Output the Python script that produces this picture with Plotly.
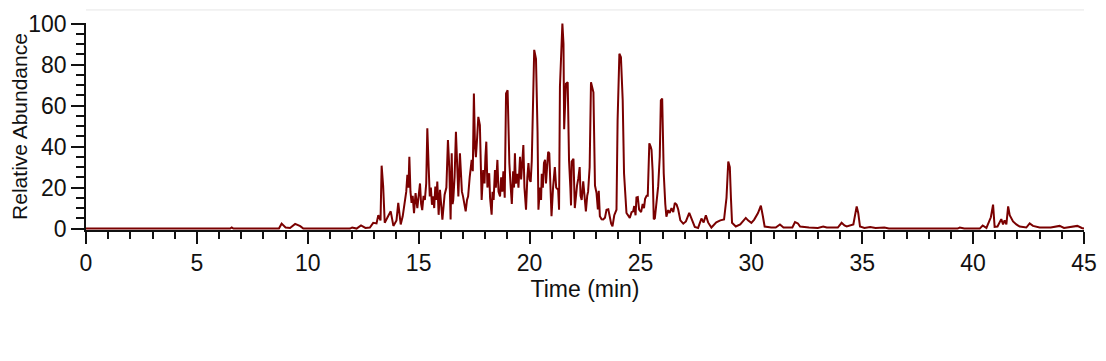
import plotly.graph_objects as go

# Retention time (min) and relative abundance (%)
time_min = [
    0, 6.5, 6.57, 6.65, 8.7, 8.82, 9.0, 9.2, 9.43, 9.66,
    9.8, 11.9, 12.0, 12.2, 12.4, 12.6, 12.8, 12.95, 13.1, 13.18,
    13.28, 13.33, 13.4, 13.47, 13.62, 13.74, 13.86, 14.0, 14.08, 14.19,
    14.28, 14.37, 14.44, 14.49, 14.54, 14.58, 14.63, 14.68, 14.73, 14.79,
    14.86, 14.94, 15.0, 15.06, 15.11, 15.16, 15.22, 15.28, 15.34, 15.39,
    15.45, 15.5, 15.55, 15.6, 15.66, 15.7, 15.75, 15.8, 15.84, 15.9,
    15.96, 16.07, 16.17, 16.25, 16.32, 16.38, 16.44, 16.49, 16.53, 16.56,
    16.62, 16.68, 16.74, 16.79, 16.86, 16.9, 16.95, 17.0, 17.06, 17.12,
    17.18, 17.23, 17.3, 17.39, 17.44, 17.49, 17.54, 17.58, 17.64, 17.69,
    17.76, 17.8, 17.84, 17.91, 17.97, 18.01, 18.05, 18.1, 18.14, 18.18,
    18.22, 18.29, 18.33, 18.38, 18.44, 18.48, 18.55, 18.6, 18.67, 18.72,
    18.77, 18.82, 18.88, 18.94, 19.01, 19.06, 19.09, 19.14, 19.2, 19.26,
    19.3, 19.34, 19.38, 19.45, 19.5, 19.57, 19.62, 19.67, 19.72, 19.77,
    19.84, 19.9, 19.95, 20.0, 20.05, 20.1, 20.14, 20.21, 20.29, 20.36,
    20.4, 20.47, 20.52, 20.55, 20.6, 20.65, 20.7, 20.74, 20.79, 20.84,
    20.89, 20.94, 20.99, 21.06, 21.14, 21.2, 21.29, 21.33, 21.37, 21.48,
    21.53, 21.56, 21.64, 21.72, 21.78, 21.84, 21.87, 21.9, 21.98, 22.04,
    22.1, 22.14, 22.2, 22.26, 22.3, 22.35, 22.42, 22.48, 22.54, 22.6,
    22.64, 22.71, 22.77, 22.88, 22.95, 23.02, 23.08, 23.12, 23.17, 23.25,
    23.32, 23.4, 23.47, 23.55, 23.62, 23.68, 23.74, 23.82, 23.92, 23.97,
    24.05, 24.12, 24.2, 24.26, 24.37, 24.45, 24.52, 24.6, 24.67, 24.72,
    24.78, 24.82, 24.88, 24.94, 25.03, 25.1, 25.16, 25.21, 25.28, 25.33,
    25.4, 25.46, 25.5, 25.55, 25.6, 25.65, 25.72, 25.8, 25.87, 25.92,
    25.98, 26.05, 26.12, 26.17, 26.25, 26.32, 26.4, 26.48, 26.55, 26.63,
    26.7, 26.8, 26.93, 27.05, 27.2, 27.3, 27.45, 27.6, 27.75, 27.85,
    27.95, 28.05, 28.2, 28.42, 28.6, 28.77, 28.88, 28.96, 29.03, 29.08,
    29.13, 29.3, 29.5, 29.75, 29.85, 30.0, 30.13, 30.3, 30.43, 30.52,
    30.6, 30.9, 31.1, 31.29, 31.45, 31.85, 31.97, 32.1, 32.2, 32.6,
    33.0, 33.24, 33.4, 33.9, 34.07, 34.2, 34.3, 34.6, 34.7, 34.75,
    34.82, 34.9, 35.1, 35.36, 35.6, 36.0, 36.2, 39.3, 39.4, 39.6,
    40.3, 40.43, 40.6, 40.8, 40.9, 40.97, 41.1, 41.27, 41.35, 41.42,
    41.5, 41.58, 41.65, 41.8, 41.95, 42.1, 42.4, 42.55, 42.7, 43.0,
    43.5, 43.9, 44.1, 44.7, 44.9, 45,
]
abundance = [
    0, 0, 0.5, 0, 0, 2.4, 0.5, 0.3, 2.3, 1.2,
    0, 0, 0.5, 0, 1.5, 0.3, 0.5, 2.8, 2.5, 6.5,
    4, 30.7, 20.5, 2.8, 6, 8.4, 1.3, 4, 12.5, 2,
    6, 12.5, 18, 26.2, 20, 35, 18, 12.5, 16, 7.5,
    17.3, 10, 18, 22, 12, 9, 16, 14, 22, 48.9,
    30, 15.7, 20, 11.6, 15.7, 10, 20.5, 14, 23, 6.7,
    18.9, 4.4, 16.5, 20, 43.2, 30, 4.4, 36.7, 12, 14,
    25, 47.2, 30, 15.7, 36.7, 25.4, 18, 15.7, 12, 8.4,
    14, 15.7, 25, 33.5, 28, 65.9, 40, 34.8, 45, 54.5,
    50.5, 30, 14, 28.6, 22, 35, 42.4, 20, 26, 27,
    15, 6.8, 18, 14, 28.6, 20, 33.5, 18, 15.7, 25,
    18, 28, 15, 65.9, 67.5, 40, 31.9, 22, 12, 28,
    20, 36.7, 22, 26.7, 20, 35, 24, 32, 40.8, 20,
    9.2, 25, 31.9, 24, 22.8, 33, 51.3, 87.2, 82.8, 47.2,
    9.2, 20, 14, 26.7, 20, 32, 33.5, 22, 30, 37.5,
    36.7, 18, 6, 20, 30, 20, 18.9, 9.2, 69.1, 100,
    90.1, 48.5, 70.7, 71.4, 33.3, 20, 11.3, 32.7, 34, 10,
    18, 21, 24.6, 30, 16, 14, 23, 15, 8.4, 16,
    18, 30, 71.4, 66.5, 21, 17.3, 9.4, 18.4, 6, 4.5,
    4.4, 5.3, 9.2, 9.4, 4.4, 2.4, 1.1, 6.5, 9.2, 53,
    85.3, 83.6, 62.6, 27, 7.6, 6, 5.2, 8, 8.4, 11,
    6.5, 15.2, 15.4, 9.2, 8, 12, 10, 14.5, 16, 16,
    41.6, 40, 38.4, 28, 4.5, 5, 14, 20.7, 35, 62.6,
    63.4, 27, 12, 5.8, 9, 7.6, 10, 8, 12.5, 11.7,
    9.4, 4, 2.4, 3.5, 7.6, 5, 0.8, 0.3, 4.9, 3,
    6.5, 3, 0.5, 3, 4, 4.4, 15, 32.7, 30, 15,
    2.8, 1, 2, 5.2, 4, 2.8, 4.4, 7.6, 11.2, 6,
    1, 0.5, 0.5, 2, 0.5, 0.5, 3.2, 2.5, 1, 0.5,
    0.3, 1, 0.5, 0.5, 2.8, 1.5, 1, 2, 8, 10.8,
    7.6, 1, 0.3, 0.8, 0.3, 0.5, 0, 0, 0.5, 0,
    0, 1.5, 0.3, 5.5, 11.7, 0.8, 1, 4.6, 2, 4,
    2, 10.8, 6.5, 3.5, 2, 1, 0.5, 2.5, 1.3, 0.5,
    0.5, 1.3, 0.3, 1.3, 0.3, 0,
]

x_ticks = [0, 5, 10, 15, 20, 25, 30, 35, 40, 45]
y_ticks = [0, 20, 40, 60, 80, 100]

LINE_COLOR = "#7a0000"
FONT = "Liberation Sans, Arial, sans-serif"
INK = "#111111"

fig = go.Figure()
fig.add_trace(go.Scatter(
    x=time_min, y=abundance, mode="lines",
    line=dict(color=LINE_COLOR, width=2),
    hoverinfo="x+y", showlegend=False,
))

# The page body adds an 8 px offset, so the figure is 8 px smaller and margins shifted.
fig.update_layout(
    width=1098, height=353,
    margin=dict(l=78, r=22, t=15, b=131),
    paper_bgcolor="white", plot_bgcolor="white",
    font=dict(family=FONT, size=23, color=INK),
    xaxis=dict(
        range=[0, 45], tickvals=x_ticks, ticktext=[str(v) for v in x_ticks],
        ticks="outside", ticklen=12, tickwidth=1.5, tickcolor=INK,
        showline=True, linecolor=INK, linewidth=1.5, layer="below traces",
        showgrid=False, zeroline=False, automargin=False,
        minor=dict(dtick=1, ticks="outside", ticklen=7, tickwidth=1.5, tickcolor=INK, showgrid=False),
        title=dict(text="Time (min)", standoff=4, font=dict(size=23)),
        tickfont=dict(size=23),
    ),
    yaxis=dict(
        range=[-0.7, 100.3], tickvals=y_ticks, ticktext=[str(v) for v in y_ticks],
        ticks="outside", ticklen=13, tickwidth=1.5, tickcolor=INK,
        showline=True, linecolor=INK, linewidth=1.5, layer="below traces",
        showgrid=False, zeroline=False, automargin=False,
        minor=dict(dtick=5, ticks="outside", ticklen=8, tickwidth=1.5, tickcolor=INK, showgrid=False),
        title=dict(text="Relative Abundance", standoff=9, font=dict(size=21)),
        tickfont=dict(size=23),
    ),
    shapes=[dict(type="line", xref="paper", yref="paper", x0=0, x1=1, y0=1.063, y1=1.063,
                 line=dict(color="#e6e6e6", width=1))],
)

fig.write_html("out.html")
